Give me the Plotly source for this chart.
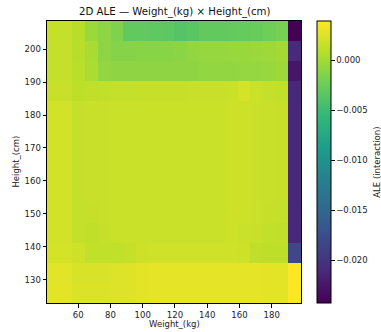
import plotly.graph_objects as go

# Bin edges (kg / cm)
weight_edges = [40.6, 48.4, 56.3, 64.2, 72.1, 80.0, 87.8, 95.7, 103.6, 111.5, 119.4,
                127.2, 135.1, 143.0, 150.9, 158.8, 166.6, 174.5, 182.4, 190.3, 198.2]
height_edges = [123.0, 129.1, 135.2, 141.3, 147.4, 153.5, 159.6, 165.7, 171.9,
                178.0, 184.1, 190.2, 196.3, 202.4, 208.5]

# ALE interaction values, rows listed from top (tallest) to bottom
ale_rows_top_down = [
    [0.0015, 0.0014, 0.0008, -0.0004, -0.0010, -0.0016, -0.0030, -0.0031, -0.0032, -0.0033,
     -0.0037, -0.0035, -0.0030, -0.0030, -0.0029, -0.0028, -0.0027, -0.0024, -0.0020, -0.0243],
    [0.0014, 0.0014, 0.0009, 0.0002, -0.0010, -0.0013, -0.0013, -0.0012, -0.0012, -0.0012,
     -0.0011, -0.0008, -0.0006, -0.0006, -0.0005, -0.0005, -0.0004, -0.0002, 0.0000, -0.0210],
    [0.0014, 0.0014, 0.0010, 0.0003, -0.0008, -0.0009, -0.0009, -0.0009, -0.0009, -0.0009,
     -0.0009, -0.0009, -0.0008, -0.0008, -0.0008, -0.0007, -0.0007, -0.0005, -0.0003, -0.0225],
    [0.0016, 0.0016, 0.0011, 0.0012, 0.0013, 0.0014, 0.0014, 0.0015, 0.0015, 0.0015,
     0.0015, 0.0016, 0.0016, 0.0016, 0.0017, 0.0021, 0.0017, 0.0014, 0.0013, -0.0212],
    [0.0020, 0.0020, 0.0014, 0.0016, 0.0016, 0.0017, 0.0017, 0.0017, 0.0017, 0.0017,
     0.0017, 0.0017, 0.0017, 0.0017, 0.0018, 0.0018, 0.0017, 0.0016, 0.0015, -0.0212],
    [0.0020, 0.0020, 0.0014, 0.0016, 0.0016, 0.0017, 0.0017, 0.0017, 0.0017, 0.0017,
     0.0017, 0.0017, 0.0017, 0.0017, 0.0018, 0.0018, 0.0017, 0.0016, 0.0015, -0.0212],
    [0.0020, 0.0020, 0.0014, 0.0016, 0.0016, 0.0017, 0.0017, 0.0017, 0.0017, 0.0017,
     0.0017, 0.0017, 0.0017, 0.0017, 0.0018, 0.0018, 0.0017, 0.0016, 0.0015, -0.0212],
    [0.0020, 0.0020, 0.0014, 0.0016, 0.0016, 0.0017, 0.0017, 0.0017, 0.0017, 0.0017,
     0.0017, 0.0017, 0.0017, 0.0017, 0.0018, 0.0018, 0.0017, 0.0016, 0.0015, -0.0212],
    [0.0020, 0.0020, 0.0014, 0.0016, 0.0016, 0.0017, 0.0017, 0.0017, 0.0017, 0.0017,
     0.0017, 0.0017, 0.0017, 0.0017, 0.0018, 0.0018, 0.0017, 0.0016, 0.0015, -0.0212],
    [0.0020, 0.0020, 0.0014, 0.0015, 0.0016, 0.0017, 0.0017, 0.0017, 0.0017, 0.0017,
     0.0017, 0.0017, 0.0017, 0.0017, 0.0018, 0.0018, 0.0017, 0.0015, 0.0014, -0.0212],
    [0.0020, 0.0020, 0.0014, 0.0012, 0.0015, 0.0017, 0.0017, 0.0017, 0.0017, 0.0017,
     0.0017, 0.0017, 0.0017, 0.0017, 0.0018, 0.0017, 0.0016, 0.0013, 0.0012, -0.0212],
    [0.0021, 0.0021, 0.0018, 0.0013, 0.0013, 0.0013, 0.0014, 0.0018, 0.0019, 0.0019,
     0.0019, 0.0019, 0.0019, 0.0019, 0.0019, 0.0018, 0.0012, 0.0011, 0.0011, -0.0182],
    [0.0027, 0.0027, 0.0023, 0.0023, 0.0023, 0.0025, 0.0025, 0.0028, 0.0029, 0.0029,
     0.0029, 0.0029, 0.0029, 0.0029, 0.0029, 0.0029, 0.0029, 0.0028, 0.0028, 0.0039],
    [0.0028, 0.0028, 0.0024, 0.0024, 0.0024, 0.0025, 0.0025, 0.0028, 0.0029, 0.0029,
     0.0029, 0.0029, 0.0029, 0.0029, 0.0029, 0.0029, 0.0029, 0.0028, 0.0028, 0.0039],
]
ale_rows = ale_rows_top_down[::-1]

cbar_ticks = [0.0, -0.005, -0.010, -0.015, -0.020]
x_ticks = [60, 80, 100, 120, 140, 160, 180]
y_ticks = [130, 140, 150, 160, 170, 180, 190, 200]

FONT = "DejaVu Sans"
W, H = 381, 332
L, R, T, B = 46.7, 302.7, 21.0, 303.0
pw = R - L
ph = B - T


def py(y_px):
    return (B - y_px) / ph


def px(x_px):
    return (x_px - L) / pw


fig = go.Figure(go.Heatmap(
    x=weight_edges, y=height_edges, z=ale_rows,
    colorscale="Viridis", zmin=-0.0243, zmax=0.0039,
    zsmooth=False,
    colorbar=dict(
        thickness=14, thicknessmode="pixels",
        len=1.0, lenmode="fraction", y=0.5, yanchor="middle",
        x=px(319), xanchor="left", xpad=0, ypad=0,
        outlinewidth=1, outlinecolor="black",
        tickvals=cbar_ticks, tickformat=".3f",
        ticks="outside", ticklen=3.5, tickcolor="black", tickwidth=1,
        tickfont=dict(family=FONT, size=8.5, color="#222"),
    ),
))

fig.update_layout(
    width=W, height=H,
    margin=dict(l=L, r=W - R, t=T, b=H - B, pad=0),
    paper_bgcolor="white", plot_bgcolor="white",
    font=dict(family=FONT, color="#222"),
    showlegend=False,
)
fig.update_xaxes(
    range=[weight_edges[0], weight_edges[-1]], tickvals=x_ticks,
    ticks="outside", ticklen=3.5, tickcolor="black", tickwidth=1,
    tickfont=dict(family=FONT, size=8.5, color="#222"),
    showline=True, linecolor="black", linewidth=1, mirror=True,
    showgrid=False, zeroline=False,
)
fig.update_yaxes(
    range=[height_edges[0], height_edges[-1]], tickvals=y_ticks,
    ticks="outside", ticklen=3.5, tickcolor="black", tickwidth=1,
    tickfont=dict(family=FONT, size=8.5, color="#222"),
    showline=True, linecolor="black", linewidth=1, mirror=True,
    showgrid=False, zeroline=False,
)

annotations = [
    dict(text="2D ALE — Weight_(kg) × Height_(cm)", x=0.5, y=py(11.5),
         xref="paper", yref="paper", showarrow=False, xanchor="center", yanchor="middle",
         font=dict(family=FONT, size=10.2, color="#111")),
    dict(text="Weight_(kg)", x=0.5, y=py(323.5),
         xref="paper", yref="paper", showarrow=False, xanchor="center", yanchor="middle",
         font=dict(family=FONT, size=8.5, color="#222")),
    dict(text="Height_(cm)", x=px(15), y=0.5, textangle=-90,
         xref="paper", yref="paper", showarrow=False, xanchor="center", yanchor="middle",
         font=dict(family=FONT, size=8.5, color="#222")),
    dict(text="ALE (interaction)", x=px(379), y=py(162), textangle=-90,
         xref="paper", yref="paper", showarrow=False, xanchor="center", yanchor="middle",
         font=dict(family=FONT, size=8.5, color="#222")),
]
fig.update_layout(annotations=annotations)

fig.write_html("out.html")
